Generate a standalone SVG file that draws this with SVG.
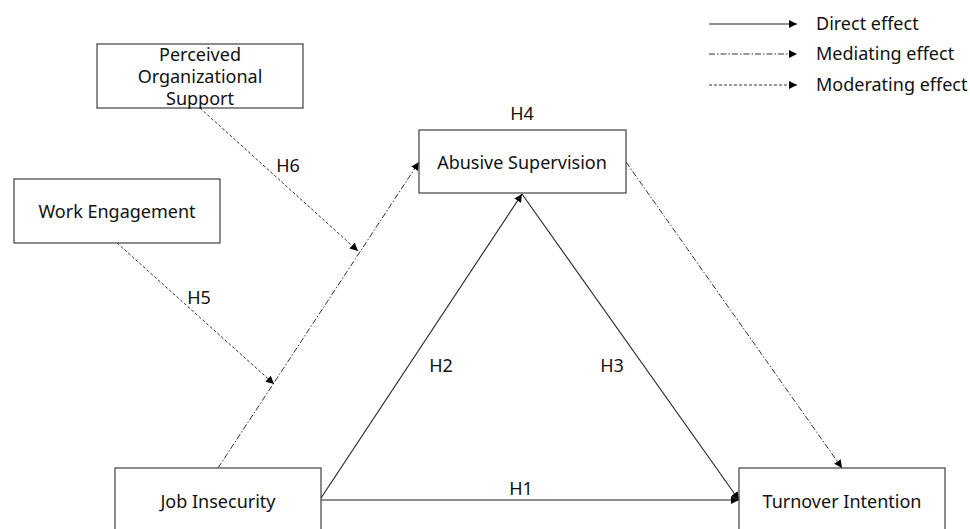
<svg xmlns="http://www.w3.org/2000/svg" width="970" height="529" viewBox="0 0 970 529">
<defs>
<marker id="ah" viewBox="0 0 10 10" refX="10" refY="5" markerWidth="8" markerHeight="8" markerUnits="userSpaceOnUse" orient="auto">
<path d="M0,0 L10,5 L0,10 z" fill="#000"/>
</marker>
</defs>
<style>
.box{fill:#fff;stroke:#404040;stroke-width:1.2}
.t{font-family:"Noto Sans","DejaVu Sans",sans-serif;font-size:18px;fill:#111;text-anchor:middle}
.lt{font-family:"Noto Sans","DejaVu Sans",sans-serif;font-size:18px;fill:#111}
.direct{stroke:#222;stroke-width:1.1;fill:none;marker-end:url(#ah)}
.med{stroke:#333;stroke-width:1;fill:none;stroke-dasharray:6 2 1.5 2;marker-end:url(#ah)}
.mod{stroke:#333;stroke-width:1;fill:none;stroke-dasharray:3 2;marker-end:url(#ah)}
</style>
<rect width="970" height="529" fill="#fff"/>
<g id="connectors">
<line class="direct" x1="321" y1="500" x2="739" y2="500"/>
<line class="direct" x1="321" y1="498" x2="522" y2="194"/>
<line class="direct" x1="522" y1="194" x2="739" y2="500"/>
<line class="med" x1="218" y1="468" x2="419" y2="162"/>
<line class="med" x1="626" y1="162" x2="842" y2="468"/>
<line class="mod" x1="200" y1="108" x2="358" y2="251"/>
<line class="mod" x1="117" y1="243" x2="274" y2="384"/>
</g>
<g id="labels">
<text class="t" x="288" y="172">H6</text>
<text class="t" x="199" y="304">H5</text>
<text class="t" x="441" y="372">H2</text>
<text class="t" x="612" y="372">H3</text>
<text class="t" x="521" y="495">H1</text>
<text class="t" x="522" y="120">H4</text>
</g>
<g id="pos">
<rect class="box" x="97" y="44" width="206" height="64"/>
<text class="t" x="200" y="61">Perceived</text>
<text class="t" x="200" y="83">Organizational</text>
<text class="t" x="200" y="105">Support</text>
</g>
<g id="we">
<rect class="box" x="14" y="179" width="206" height="64"/>
<text class="t" x="117" y="218">Work Engagement</text>
</g>
<g id="as">
<rect class="box" x="419" y="130" width="207" height="63"/>
<text class="t" x="522" y="169">Abusive Supervision</text>
</g>
<g id="ji">
<rect class="box" x="115" y="468" width="206" height="70"/>
<text class="t" x="218" y="508">Job Insecurity</text>
</g>
<g id="ti">
<rect class="box" x="739" y="468" width="206" height="70"/>
<text class="t" x="842" y="508">Turnover Intention</text>
</g>
<g id="legend">
<line class="direct" x1="709" y1="24" x2="797" y2="24"/>
<line class="med" x1="709" y1="54" x2="797" y2="54"/>
<line class="mod" x1="709" y1="85" x2="797" y2="85"/>
<text class="lt" x="816" y="30">Direct effect</text>
<text class="lt" x="816" y="60">Mediating effect</text>
<text class="lt" x="816" y="91">Moderating effect</text>
</g>
</svg>
